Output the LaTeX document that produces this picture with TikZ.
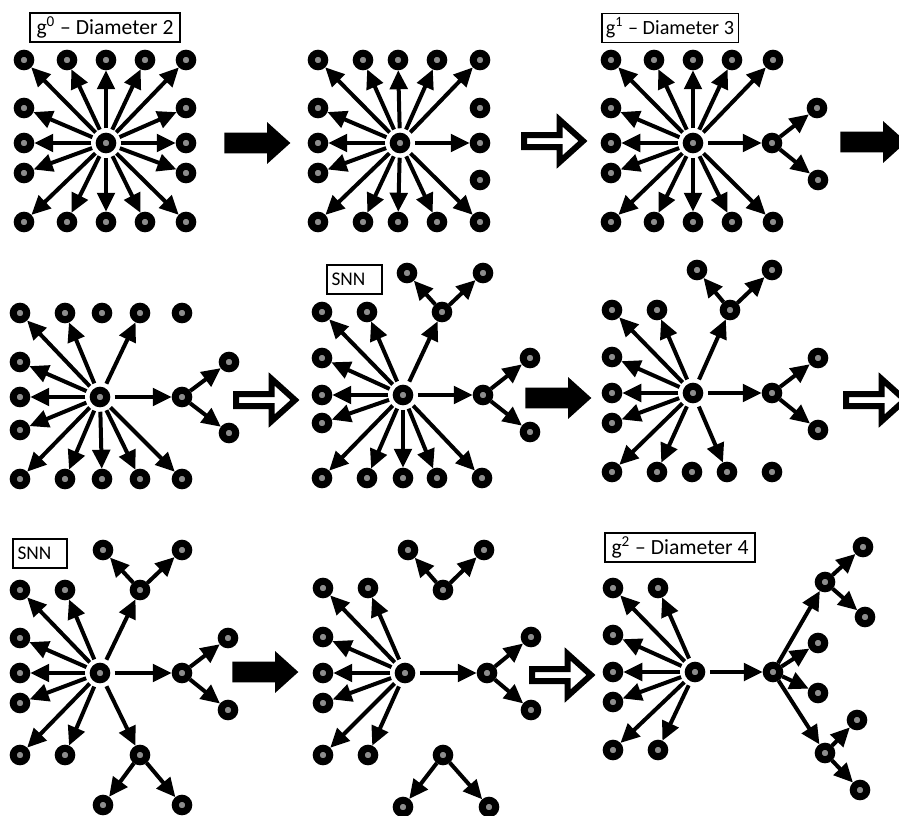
\documentclass[tikz,border=0pt]{standalone}
\usepackage{fontspec}
\setmainfont{Carlito}
\usetikzlibrary{arrows.meta, shapes.arrows}

\tikzset{
  dot/.style={circle, draw=black, fill=black!45, line width=0.14cm, inner sep=0pt, minimum size=0.27cm},
  hub/.style={dot, outer sep=0.16cm},
  link/.style={line width=0.08cm, -{Triangle[length=0.38cm, width=0.35cm]}},
  tag/.style={draw=black, line width=0.6pt, inner xsep=0.08cm, inner ysep=0pt, minimum height=0.58cm},
  fatarrow/.style={single arrow, fill=black, inner xsep=0pt, inner ysep=0.2cm, anchor=tail, minimum height=1.32cm, single arrow head extend=0.21cm, single arrow tip angle=84},
  hollowarrow/.style={single arrow, draw=black, fill=white, line width=0.12cm, inner xsep=0pt, inner ysep=0.06cm, anchor=tail, minimum height=1.18cm, single arrow head extend=0.3cm, single arrow tip angle=84},
}

\begin{document}
\begin{tikzpicture}[x=0.02cm, y=-0.02cm]

\useasboundingbox (0,0) rectangle (899,815);
\fill[white] (0,0) rectangle (899,815);
\clip (0,0) rectangle (899,815);

% Panel A: g^0
\begin{scope}[shift={(106,143)}]
  \node[hub] (hA) at (0,0) {};
  \foreach \n/\dx/\dy in {t1/-82/-83, t2/-39/-83, t3/0/-83, t4/39/-83, t5/80/-83, l2/-82/-35, l3/-82/0, l4/-82/30, r2/80/-35, r3/80/0, r4/80/30, b1/-82/79, b2/-39/79, b3/0/79, b4/39/79, b5/80/79}
    {\node[dot] (A\n) at (\dx,\dy) {}; \draw[link] (hA) -- (A\n);}
\end{scope}

% Panel B
\begin{scope}[shift={(400,143)}]
  \node[hub] (hB) at (0,0) {};
  \foreach \n/\dx/\dy in {t1/-82/-83, t2/-37/-83, t3/-2/-83, t4/37/-83, t5/80/-83, l2/-82/-35, l3/-82/0, l4/-82/30, r3/80/0, b1/-82/79, b2/-37/79, b3/-2/79, b4/37/79, b5/80/79}
    {\node[dot] (B\n) at (\dx,\dy) {}; \draw[link] (hB) -- (B\n);}
  \foreach \n/\dx/\dy in {r2/80/-35, r4/80/37}
    {\node[dot] (B\n) at (\dx,\dy) {};}
\end{scope}

% Panel C: g^1
\begin{scope}[shift={(693,143)}]
  \node[hub] (hC) at (0,0) {};
  \foreach \n/\dx/\dy in {t1/-82/-83, t2/-39/-83, t3/0/-83, t4/39/-83, t5/80/-83, l2/-82/-35, l3/-82/0, l4/-82/30, r3/79/0, b1/-82/79, b2/-39/79, b3/0/79, b4/39/79, b5/80/79}
    {\node[dot] (C\n) at (\dx,\dy) {}; \draw[link] (hC) -- (C\n);}
  \foreach \p/\c/\dx/\dy in {r3/ra/124/-35, r3/rb/125/37}
    {\node[dot] (C\c) at (\dx,\dy) {}; \draw[link] (C\p) -- (C\c);}
\end{scope}

% Panel D
\begin{scope}[shift={(100,397)}]
  \node[hub] (hD) at (0,0) {};
  \foreach \n/\dx/\dy in {t1/-80/-84, t2/-35/-84, t4/40/-84, l2/-80/-35, l3/-80/0, l4/-80/33, r3/82/0, b1/-80/82, b2/-35/82, b3/2/82, b4/40/82, b5/82/82}
    {\node[dot] (D\n) at (\dx,\dy) {}; \draw[link] (hD) -- (D\n);}
  \foreach \n/\dx/\dy in {t3/2/-84, t5/82/-84}
    {\node[dot] (D\n) at (\dx,\dy) {};}
  \foreach \p/\c/\dx/\dy in {r3/ra/129/-35, r3/rb/129/36}
    {\node[dot] (D\c) at (\dx,\dy) {}; \draw[link] (D\p) -- (D\c);}
\end{scope}

% Panel E: SNN
\begin{scope}[shift={(403,395)}]
  \node[hub] (hE) at (0,0) {};
  \foreach \n/\dx/\dy in {t1/-81/-83, t2/-36/-83, t4/39/-83, l2/-81/-37, l3/-81/0, l4/-81/28, r3/80/0, b1/-81/83, b2/-36/83, b3/0/83, b4/34/83, b5/79/83}
    {\node[dot] (E\n) at (\dx,\dy) {}; \draw[link] (hE) -- (E\n);}
  \foreach \p/\c/\dx/\dy in {t4/tu/4/-122, t4/tv/80/-122, r3/ra/127/-37, r3/rb/127/37}
    {\node[dot] (E\c) at (\dx,\dy) {}; \draw[link] (E\p) -- (E\c);}
\end{scope}

% Panel F
\begin{scope}[shift={(693,393)}]
  \node[hub] (hF) at (0,0) {};
  \foreach \n/\dx/\dy in {t1/-81/-83, t2/-36/-83, t4/37/-83, l2/-81/-36, l3/-81/0, l4/-81/30, r3/79/0, b1/-81/79, b2/-36/79, b4/34/79}
    {\node[dot] (F\n) at (\dx,\dy) {}; \draw[link] (hF) -- (F\n);}
  \foreach \n/\dx/\dy in {b3/-1/79, b5/79/79}
    {\node[dot] (F\n) at (\dx,\dy) {};}
  \foreach \p/\c/\dx/\dy in {t4/tu/4/-123, t4/tv/79/-123, r3/ra/125/-35, r3/rb/125/37}
    {\node[dot] (F\c) at (\dx,\dy) {}; \draw[link] (F\p) -- (F\c);}
\end{scope}

% Panel G: SNN
\begin{scope}[shift={(100,673)}]
  \node[hub] (hG) at (0,0) {};
  \foreach \n/\dx/\dy in {t1/-80/-83, t2/-35/-83, t4/40/-83, l2/-80/-35, l3/-80/0, l4/-80/30, r3/82/0, b1/-80/82, b2/-35/82, b4/40/82}
    {\node[dot] (G\n) at (\dx,\dy) {}; \draw[link] (hG) -- (G\n);}
  \foreach \p/\c/\dx/\dy in {t4/tu/3/-123, t4/tv/82/-123, r3/ra/128/-35, r3/rb/128/37, b4/bu/3/132, b4/bv/82/132}
    {\node[dot] (G\c) at (\dx,\dy) {}; \draw[link] (G\p) -- (G\c);}
\end{scope}

% Panel H
\begin{scope}[shift={(405,673)}]
  \node[hub] (hH) at (0,0) {};
  \foreach \n/\dx/\dy in {t1/-82/-85, t2/-37/-85, l2/-82/-36, l3/-82/0, l4/-82/30, r3/82/0, b1/-82/82, b2/-37/82}
    {\node[dot] (H\n) at (\dx,\dy) {}; \draw[link] (hH) -- (H\n);}
  \foreach \n/\dx/\dy in {t4/38/-83, b4/38/82}
    {\node[dot] (H\n) at (\dx,\dy) {};}
  \foreach \p/\c/\dx/\dy in {t4/tu/3/-123, t4/tv/79/-123, r3/ra/126/-36, r3/rb/126/37, b4/bu/-2/134, b4/bv/84/134}
    {\node[dot] (H\c) at (\dx,\dy) {}; \draw[link] (H\p) -- (H\c);}
\end{scope}

% Panel I: g^2
\begin{scope}[shift={(695,672)}]
  \node[hub] (hI) at (0,0) {};
  \foreach \n/\dx/\dy in {t1/-82/-84, t2/-37/-84, l2/-82/-37, l3/-82/0, l4/-82/30, r3/78/0, b1/-82/78, b2/-37/78}
    {\node[dot] (I\n) at (\dx,\dy) {}; \draw[link] (hI) -- (I\n);}
  \foreach \p/\c/\dx/\dy in {r3/ru/130/-90, r3/rm1/123/-29, r3/rm2/123/21, r3/rd/130/81, ru/rua/168/-125, ru/rub/170/-55, rd/rda/162/48, rd/rdb/165/118}
    {\node[dot] (I\c) at (\dx,\dy) {}; \draw[link] (I\p) -- (I\c);}
\end{scope}

% Labels
\node[tag, minimum width=3cm, font=\fontsize{12.3}{14}\selectfont] (lblA) at (105,27.5) {g\textsuperscript{0} – Diameter 2};
\node[tag, minimum width=2.68cm, font=\fontsize{11.5}{13}\selectfont] (lblC) at (670,28) {g\textsuperscript{1} – Diameter 3};
\node[tag, minimum width=1.1cm, text width=0.92cm, font=\fontsize{11}{13}\selectfont] (lblE) at (354.5,279.5) {SNN};
\node[tag, minimum width=1.08cm, text width=0.9cm, font=\fontsize{11}{13}\selectfont] (lblG) at (40,553.5) {SNN};
\node[tag, minimum width=3cm, font=\fontsize{12.3}{14}\selectfont] (lblI) at (680,547.5) {g\textsuperscript{2} – Diameter 4};

% Steps between panels
\node[fatarrow] (stepAB) at (224,143) {};
\node[hollowarrow] (stepBC) at (521,141) {};
\node[fatarrow] (stepCD) at (840,142) {};
\node[hollowarrow] (stepDE) at (233,400) {};
\node[fatarrow] (stepEF) at (525,398) {};
\node[hollowarrow] (stepFG) at (843,400) {};
\node[fatarrow] (stepGH) at (232,672) {};
\node[hollowarrow] (stepHI) at (529,675) {};

\end{tikzpicture}
\end{document}
